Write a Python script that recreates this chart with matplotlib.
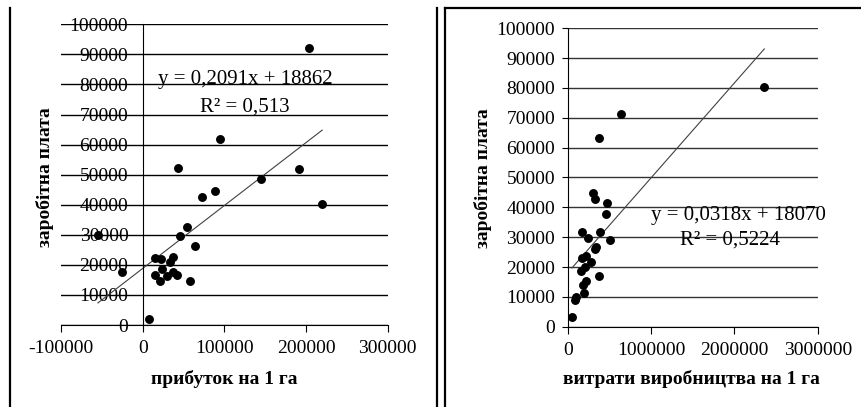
import matplotlib.pyplot as plt
from matplotlib.lines import Line2D
from matplotlib.ticker import FuncFormatter, MultipleLocator
import numpy as np

plt.rcParams['font.family'] = ['Liberation Serif', 'DejaVu Serif']

# left chart: profit per hectare vs wages
profit_x = [203300, 93900, 42500, 191000, 145000, 87800, 71900, 219700, 53500,
            45800, -55100, 63300, 15200, 22000, 36700, 32700, 23700, -25700,
            36700, 14700, 29000, 41600, 20400, 58000, 7300]
profit_y = [92000, 61900, 52300, 51900, 48500, 44500, 42500, 40200, 32500,
            29500, 29800, 26300, 22400, 22100, 22500, 20900, 18500, 17600,
            17700, 16600, 16300, 16600, 14600, 14500, 2000]
profit_fit = (0.2091, 18862)
profit_eq = ["y = 0,2091x + 18862", "R² = 0,513"]

# right chart: production costs per hectare vs wages
costs_x = [2359000, 636000, 376000, 307000, 331000, 472000, 460000, 168000,
           384000, 247000, 511000, 343000, 324000, 168000, 223000, 276000,
           211000, 156000, 379000, 223000, 180000, 192000, 96000, 84000, 50000]
costs_y = [80250, 71300, 63250, 44800, 42700, 41400, 37900, 31600, 31600,
           29800, 29000, 26800, 26000, 23000, 23800, 21700, 20100, 18800,
           17000, 15400, 13900, 11400, 9850, 8850, 3250]
costs_fit = (0.0318, 18070)
costs_eq = ["y = 0,0318x + 18070", "R² = 0,5224"]

y_label = "заробітна плата"
W, H = 861, 407


def px(x, y):
    return x / W, 1 - y / H


fmt = FuncFormatter(lambda v, p: f"{int(round(v))}")

fig = plt.figure(figsize=(W / 100, H / 100), dpi=100)

# ---- left chart
ax1 = fig.add_axes([61.3 / W, 1 - 325 / H, 326.4 / W, 300.7 / H])
ax1.set_xlim(-100000, 300000)
ax1.set_ylim(0, 100000)
ax1.spines[['top', 'right']].set_visible(False)
ax1.spines['left'].set_position(('data', 0))
ax1.xaxis.set_major_locator(MultipleLocator(100000))
ax1.yaxis.set_major_locator(MultipleLocator(10000))
ax1.xaxis.set_major_formatter(fmt)
ax1.yaxis.set_major_formatter(fmt)
ax1.grid(axis='y', color='black', lw=1)
ax1.tick_params(axis='y', length=0, pad=10.5, labelsize=14)
ax1.tick_params(axis='x', length=5, direction='out', pad=6, labelsize=14)
ax1.plot(profit_x, profit_y, 'o', color='black', ms=5.4, zorder=3)
xs = np.array([min(profit_x), max(profit_x)])
ax1.plot(xs, profit_fit[0] * xs + profit_fit[1], color='#404040', lw=0.8)
ax1.text(125700, 81800, profit_eq[0], ha='center', va='center', fontsize=15)
ax1.text(125000, 72500, profit_eq[1], ha='center', va='center', fontsize=15)

# ---- right chart
ax2 = fig.add_axes([567.7 / W, 1 - 326.7 / H, 250 / W, 298.4 / H])
ax2.set_xlim(0, 3000000)
ax2.set_ylim(0, 100000)
ax2.spines[['top', 'right']].set_visible(False)
ax2.xaxis.set_major_locator(MultipleLocator(1000000))
ax2.yaxis.set_major_locator(MultipleLocator(10000))
ax2.xaxis.set_major_formatter(fmt)
ax2.yaxis.set_major_formatter(fmt)
ax2.grid(axis='y', color='#333333', lw=1)
ax2.tick_params(axis='y', length=4, direction='out', pad=5, labelsize=14)
ax2.tick_params(axis='x', length=5, direction='out', pad=6, labelsize=14)
ax2.plot(costs_x, costs_y, 'o', color='black', ms=5.4, zorder=3)
xs = np.array([min(costs_x), max(costs_x)])
ax2.plot(xs, costs_fit[0] * xs + costs_fit[1], color='#404040', lw=0.8)
ax2.text(2043600, 37200, costs_eq[0], ha='center', va='center', fontsize=15)
ax2.text(1950000, 29000, costs_eq[1], ha='center', va='center', fontsize=15)

# axis titles
fig.text(*px(45, 177), y_label, rotation=90, ha='center', va='center',
         fontsize=14, fontweight='bold')
fig.text(*px(224, 379), "прибуток на 1 га", ha='center', va='center',
         fontsize=14, fontweight='bold')
fig.text(*px(483, 178), y_label, rotation=90, ha='center', va='center',
         fontsize=14, fontweight='bold')
fig.text(*px(691, 379), "витрати виробництва на 1 га", ha='center', va='center',
         fontsize=14, fontweight='bold')

# frame lines around the two charts
for x0, y0, x1, y1 in [(10, 8, 10, 407), (437, 8, 437, 407), (445, 8, 445, 407), (445, 8, 861, 8)]:
    a, b = px(x0, y0)
    c, d = px(x1, y1)
    fig.add_artist(Line2D([a, c], [b, d], color='black', lw=1.6))

fig.savefig('out.png', dpi=100)
